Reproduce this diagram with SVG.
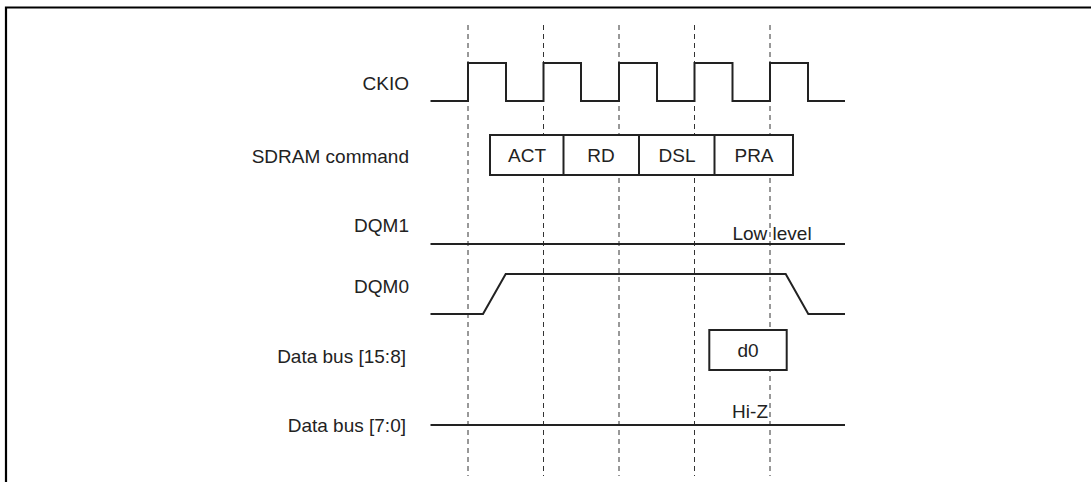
<svg xmlns="http://www.w3.org/2000/svg" width="1091" height="482" viewBox="0 0 1091 482">
<style>
text{font-family:"Liberation Sans",Arial,sans-serif;font-size:19px;fill:#222}
.lbl{text-anchor:end}
.mid{text-anchor:middle}
.wave{fill:none;stroke:#222;stroke-width:2;stroke-linejoin:miter}
.box{fill:#fff;stroke:#222;stroke-width:2}
.guide{fill:none;stroke:#333;stroke-width:1;stroke-dasharray:5 4}
</style>
<rect x="0" y="0" width="1091" height="482" fill="#fff"/>
<path id="frame" d="M6,482 V7.5 H1091" fill="none" stroke="#000" stroke-width="2.2"/>
<g id="labels">
<text class="lbl" x="409" y="90">CKIO</text>
<text class="lbl" x="409" y="163">SDRAM command</text>
<text class="lbl" x="409" y="232">DQM1</text>
<text class="lbl" x="409" y="293">DQM0</text>
<text class="lbl" x="406" y="363">Data bus [15:8]</text>
<text class="lbl" x="406" y="432">Data bus [7:0]</text>
</g>
<g id="guides">
<line class="guide" x1="468" y1="25" x2="468" y2="476"/>
<line class="guide" x1="543.5" y1="25" x2="543.5" y2="476"/>
<line class="guide" x1="619" y1="25" x2="619" y2="476"/>
<line class="guide" x1="694.5" y1="25" x2="694.5" y2="476"/>
<line class="guide" x1="770" y1="25" x2="770" y2="476"/>
</g>
<g id="ckio">
<path class="wave" d="M430.5,101 H468 V63 H506 V101 H543.5 V63 H581 V101 H619 V63 H657 V101 H694.5 V63 H732.5 V101 H770 V63 H808 V101 H845"/>
</g>
<g id="sdram-command">
<rect class="box" x="490" y="135" width="303" height="40"/>
<line class="wave" x1="563.5" y1="135" x2="563.5" y2="175"/>
<line class="wave" x1="639" y1="135" x2="639" y2="175"/>
<line class="wave" x1="714.5" y1="135" x2="714.5" y2="175"/>
<text class="mid" x="527" y="162">ACT</text>
<text class="mid" x="601" y="162">RD</text>
<text class="mid" x="677" y="162">DSL</text>
<text class="mid" x="754" y="162">PRA</text>
</g>
<g id="dqm1">
<path class="wave" d="M430.5,244 H845"/>
<text class="mid" x="772" y="240">Low level</text>
</g>
<g id="dqm0">
<path class="wave" d="M430.5,314 H483 L505.7,274 H785.7 L808.3,314 H845"/>
</g>
<g id="data-bus-15-8">
<rect class="box" x="709.3" y="330" width="77.4" height="40"/>
<text class="mid" x="748" y="357">d0</text>
</g>
<g id="data-bus-7-0">
<path class="wave" d="M430.5,425 H845"/>
<text x="768" y="418" text-anchor="end">Hi-Z</text>
</g>
</svg>
